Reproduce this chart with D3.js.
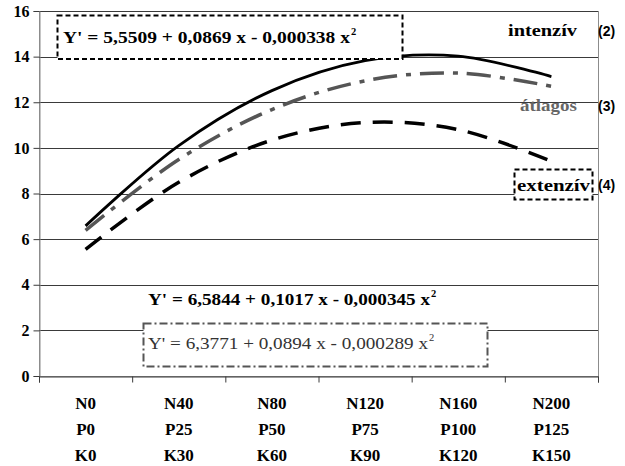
<!DOCTYPE html>
<html>
<head>
<meta charset="utf-8">
<script src="https://cdnjs.cloudflare.com/ajax/libs/d3/7.8.5/d3.min.js"></script>
<style>
  html, body { margin: 0; padding: 0; background: #fff; }
  svg { display: block; }
  .serif { font-family: "Liberation Serif", "DejaVu Serif", serif; }
  .sans { font-family: "Liberation Sans", Arial, sans-serif; }
</style>
</head>
<body>
<svg id="chart" width="625" height="466"></svg>
<script>
// Fertiliser levels (three lines per category)
const nLevels = ["N0", "N40", "N80", "N120", "N160", "N200"];
const pLevels = ["P0", "P25", "P50", "P75", "P100", "P125"];
const kLevels = ["K0", "K30", "K60", "K90", "K120", "K150"];

// Yield values per management system
const intenziv = [6.58, 10.10, 12.51, 13.82, 14.02, 13.12];
const atlagos  = [6.38, 9.49, 11.68, 12.94, 13.28, 12.70];
const extenziv = [5.55, 8.49, 10.34, 11.11, 10.80, 9.41];

const yTicks = [0, 2, 4, 6, 8, 10, 12, 14, 16];

const svg = d3.select("#chart");
const plotLeft = 39, plotRight = 598, plotTop = 11, plotBottom = 376;

const x = d3.scaleBand().domain(d3.range(nLevels.length)).range([plotLeft, plotRight]);
const xEdge = d3.scaleLinear().domain([0, nLevels.length]).range([plotLeft, plotRight]);
const y = d3.scaleLinear().domain([0, 16]).range([plotBottom, plotTop]);

// plot frame
svg.append("rect")
  .attr("x", plotLeft + 0.5).attr("y", plotTop + 0.5)
  .attr("width", plotRight - plotLeft).attr("height", plotBottom - plotTop)
  .attr("fill", "none").attr("stroke", "#8c8c8c").attr("stroke-width", 1);

// horizontal gridlines
svg.append("g").selectAll("line").data(yTicks.slice(1)).join("line")
  .attr("x1", plotLeft).attr("x2", plotRight)
  .attr("y1", d => Math.round(y(d)) + 0.5).attr("y2", d => Math.round(y(d)) + 0.5)
  .attr("stroke", "#3a3a3a").attr("stroke-width", 1);

// y axis
const yAxis = svg.append("g")
  .attr("transform", `translate(${plotLeft + 0.5},0)`)
  .call(d3.axisLeft(y).tickValues(yTicks).tickSize(6).tickPadding(4).tickFormat(d3.format("d")));
yAxis.select(".domain").attr("stroke", "#8c8c8c");
yAxis.selectAll(".tick line").attr("stroke", "#3a3a3a");
yAxis.selectAll("text")
  .attr("class", "serif").attr("font-size", 16).attr("font-weight", "bold").attr("fill", "#000");

// x axis with ticks on category edges
const xAxis = svg.append("g")
  .attr("transform", `translate(0,${Math.round(plotBottom) + 0.5})`)
  .call(d3.axisBottom(xEdge).tickValues(d3.range(nLevels.length + 1)).tickSize(6).tickFormat(""));
xAxis.select(".domain").attr("stroke", "#3a3a3a");
xAxis.selectAll(".tick line").attr("stroke", "#3a3a3a");

// category labels
const labelG = svg.append("g");
nLevels.forEach((n, i) => {
  const cx = x(i) + x.bandwidth() / 2;
  const t = labelG.append("text").attr("class", "serif")
    .attr("text-anchor", "middle").attr("font-size", 17).attr("font-weight", "bold");
  [n, pLevels[i], kLevels[i]].forEach((s, j) => {
    t.append("tspan").attr("x", cx).attr("y", 409 + j * 26).text(s);
  });
});

// smoothed series lines
const line = d3.line()
  .x((d, i) => x(i) + x.bandwidth() / 2)
  .y(d => y(d))
  .curve(d3.curveCatmullRom.alpha(0.5));

svg.append("path").datum(extenziv)
  .attr("d", line).attr("fill", "none")
  .attr("stroke", "#000").attr("stroke-width", 3.5)
  .attr("stroke-dasharray", "20,12");

svg.append("path").datum(atlagos)
  .attr("d", line).attr("fill", "none")
  .attr("stroke", "#555").attr("stroke-width", 3.5)
  .attr("stroke-dasharray", "24,9,5,9");

svg.append("path").datum(intenziv)
  .attr("d", line).attr("fill", "none")
  .attr("stroke", "#000").attr("stroke-width", 2.8);

// equation helper: text with squared x
function equation(g, xPos, yPos, body, bodyWidth, opts) {
  const t = g.append("text").attr("class", "serif")
    .attr("x", xPos).attr("y", yPos)
    .attr("font-size", opts.size).attr("font-weight", opts.weight)
    .attr("fill", opts.fill);
  t.append("tspan").attr("textLength", bodyWidth).attr("lengthAdjust", "spacingAndGlyphs").text(body);
  t.append("tspan").attr("dx", 1).attr("dy", -8).attr("font-size", opts.size * 0.62).text("2");
  return t;
}

// extensive equation in dashed box
svg.append("rect")
  .attr("x", 57.5).attr("y", 15.5).attr("width", 345).attr("height", 43.5)
  .attr("fill", "#fff").attr("stroke", "#000").attr("stroke-width", 2)
  .attr("stroke-dasharray", "5,3");
equation(svg, 63, 43, "Y' = 5,5509 + 0,0869 x - 0,000338 x", 287,
  { size: 17, weight: "bold", fill: "#000" });

// intensive equation
equation(svg, 148, 305, "Y' = 6,5844 + 0,1017 x - 0,000345 x", 282,
  { size: 17, weight: "bold", fill: "#000" });

// average equation in dash-dot box
svg.append("rect")
  .attr("x", 143.5).attr("y", 323.5).attr("width", 344).attr("height", 43)
  .attr("fill", "#fff").attr("stroke", "#555").attr("stroke-width", 2)
  .attr("stroke-dasharray", "8,3,2,3");
equation(svg, 148, 349, "Y' = 6,3771 + 0,0894 x - 0,000289 x", 280,
  { size: 17, weight: "normal", fill: "#333" });

// series names
function seriesName(xPos, yPos, text, width, fill) {
  return svg.append("text").attr("class", "serif")
    .attr("x", xPos).attr("y", yPos)
    .attr("font-size", 17).attr("font-weight", "bold").attr("fill", fill)
    .attr("textLength", width).attr("lengthAdjust", "spacingAndGlyphs")
    .text(text);
}
seriesName(508, 36, "intenzív", 69, "#000");
seriesName(520, 111, "átlagos", 57, "#666");
svg.append("rect")
  .attr("x", 514.5).attr("y", 169.5).attr("width", 78).attr("height", 30)
  .attr("fill", "#fff").attr("stroke", "#000").attr("stroke-width", 2)
  .attr("stroke-dasharray", "5,3");
seriesName(517, 191, "extenzív", 73, "#000");

// series numbers
[["(2)", 36], ["(3)", 111], ["(4)", 190]].forEach(([s, yy]) => {
  svg.append("text").attr("class", "sans")
    .attr("x", 598).attr("y", yy)
    .attr("font-size", 14).attr("font-weight", "bold").attr("fill", "#000")
    .text(s);
});
</script>
</body>
</html>
